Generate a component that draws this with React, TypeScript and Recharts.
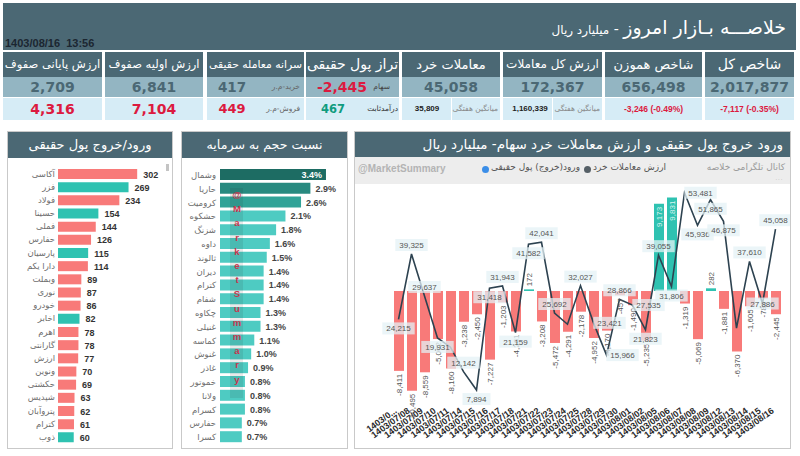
import React from 'react';
import { BarChart, Bar, XAxis, YAxis, Cell, LabelList, ComposedChart, Line } from 'recharts';

// ---------- header data ----------
const bannerTitle = 'خلاصـــه بـازار امروز';
const bannerUnit = 'میلیارد ریال';
const stamp = '1403/08/16  13:56';

const cardTitles = ['ارزش پایانی صفوف', 'ارزش اولیه صفوف', 'سرانه معامله حقیقی', 'تراز پول حقیقی', 'معاملات خرد', 'ارزش کل معاملات', 'شاخص هموزن', 'شاخص کل'];
const cardMain = ['2,709', '6,841', '417', '-2,445', '45,058', '172,367', '656,498', '2,017,877'];
const cardMainLabel = ['', '', 'خرید-م.ر', 'سهام', '', '', '', ''];
const cardSub = ['4,316', '7,104', '449', '467', '35,809', '1,160,339', '-3,246 (-0.49%)', '-7,117 (-0.35%)'];
const cardSubLabel = ['', '', 'فروش-م.ر', 'درآمدثابت', 'میانگین هفتگی', 'میانگین هفتگی', '', ''];

// ---------- left panel: real money in/out ----------
const flowTitle = 'ورود/خروج پول حقیقی';
const flowNames = ['آکاسی', 'فزر', 'فولاد', 'حسینا', 'فملی', 'حفارس', 'پارسیان', 'دارا یکم', 'وبملت', 'نوری', 'خودرو', 'اخابر', 'اهرم', 'گارانتی', 'ارزش', 'ونوین', 'حکشتی', 'شپدیس', 'پتروآبان', 'کترام', 'ذوب'];
const flowValues = [302, 269, 234, 154, 144, 126, 115, 114, 89, 87, 86, 82, 78, 78, 77, 70, 69, 63, 62, 61, 60];
const flowIsInflow = [false, true, false, true, false, false, true, false, false, false, false, true, false, false, false, false, false, false, false, false, true];

// ---------- middle panel: volume / capital ----------
const ratioTitle = 'نسبت حجم به سرمایه';
const ratioNames = ['وشمال', 'حاریا', 'کرومیت', 'حشکوه', 'شزنگ', 'داوه', 'ثالوند', 'دیران', 'کترام', 'شفام', 'چکاوه', 'غنیلی', 'کماسه', 'غنوش', 'غاذر', 'خموتور', 'ولانا', 'کسرام', 'حفارس', 'کسرا'];
const ratioValues = [3.4, 2.9, 2.6, 2.1, 1.8, 1.6, 1.5, 1.4, 1.4, 1.4, 1.3, 1.3, 1.1, 1.0, 0.9, 0.8, 0.8, 0.8, 0.7, 0.7];
const watermark = '@MarketSummary';

// ---------- right panel: trend ----------
const trendTitle = 'ورود خروج پول حقیقی و ارزش معاملات خرد سهام- میلیارد ریال';
const legendFlow = 'ورود(خروج) پول حقیقی';
const legendRetail = 'ارزش معاملات خرد';
const channelText = 'کانال تلگرامی خلاصه';
const dates = ['1403/07/07', '1403/07/08', '1403/07/09', '1403/07/10', '1403/07/11', '1403/07/14', '1403/07/15', '1403/07/16', '1403/07/17', '1403/07/18', '1403/07/21', '1403/07/22', '1403/07/23', '1403/07/24', '1403/07/25', '1403/07/28', '1403/07/29', '1403/07/30', '1403/08/01', '1403/08/02', '1403/08/05', '1403/08/06', '1403/08/07', '1403/08/08', '1403/08/09', '1403/08/12', '1403/08/13', '1403/08/14', '1403/08/15', '1403/08/16'];
const netFlow = [-8411, -10495, -8559, -5062, -8160, -3238, -2450, -7227, -1203, -4261, 172, -3208, -5472, -4291, -2178, -4952, -4170, -457, -1490, -5235, 9173, 9831, -1319, -5069, 282, -1881, -6370, -1605, -788, -2445];
const retailValue = [24215, 39325, 29637, 19931, 17800, 12142, 7894, 31418, 31943, 21159, 41582, 42041, 25692, 23100, 32027, 23421, 15966, 28866, 27535, 21823, 39055, 31806, 53481, 45936, 51865, 46875, 22200, 37610, 27886, 45058];

// label placement of the line's data labels (a = above, b = below, r = right, c = centre, '-' = hidden)
const retailLabelPlace = 'baab-abbabbaa-arrarbabrbbb-aca';

// ---------- colours ----------
const SLATE = '#4b6874';
const MID = '#93b5c2';
const LIGHT = '#d6ecf6';
const REDTXT = '#dc1a3f';
const GREENTXT = '#109c7f';
const REDBAR = '#f87a79';
const TEAL = '#2fc2b1';
const FA = '"DejaVu Sans", sans-serif';
const NUM = '"Liberation Sans", Arial, sans-serif';

const cardX = [3, 105, 207, 306, 402, 503, 605, 705];
const cardW = [99, 98, 97, 93, 98, 99, 97, 89];
const cardTitleSize = [11.5, 11.5, 10.8, 14, 13, 12, 13, 14];

function centered(text: string, cx: number, style: React.CSSProperties, h: number) {
  return (
    <div style={{ position: 'absolute', left: cx - 70, width: 140, top: 0, height: h, lineHeight: h + 'px', textAlign: 'center', whiteSpace: 'pre', ...style }}>{text}</div>
  );
}
function rightLabel(text: string, right: number, style: React.CSSProperties, h: number) {
  return (
    <div style={{ position: 'absolute', right, top: 0, height: h, lineHeight: h + 'px', direction: 'rtl', whiteSpace: 'nowrap', fontFamily: FA, ...style }}>{text}</div>
  );
}

function Card({ i }: { i: number }) {
  const w = cardW[i];
  const bigSlate: React.CSSProperties = { fontFamily: FA, fontWeight: 'bold', fontSize: 14, color: SLATE };
  let main: React.ReactNode;
  let sub: React.ReactNode;
  if (i === 2) {
    main = <>{centered(cardMain[i], 25, { ...bigSlate, fontSize: 13.5 }, 20)}{rightLabel(cardMainLabel[i], 4, { fontSize: 7.5, color: '#666' }, 20)}</>;
    sub = <>{centered(cardSub[i], 25, { fontFamily: FA, fontWeight: 'bold', fontSize: 13, color: REDTXT }, 22)}{rightLabel(cardSubLabel[i], 4, { fontSize: 7.5, color: '#666' }, 22)}</>;
  } else if (i === 3) {
    main = <>{centered(cardMain[i], 36, { ...bigSlate, color: REDTXT }, 20)}{rightLabel(cardMainLabel[i], 9, { fontSize: 7.5, color: '#444' }, 20)}</>;
    sub = <>{centered(cardSub[i], 27, { fontFamily: FA, fontWeight: 'bold', fontSize: 11.5, color: GREENTXT }, 22)}{rightLabel(cardSubLabel[i], 1, { fontSize: 7.5, color: '#333' }, 22)}</>;
  } else if (i === 4 || i === 5) {
    main = centered(cardMain[i], w / 2, bigSlate, 20);
    sub = (
      <>
        {centered(cardSub[i], i === 4 ? 25 : 27, { fontFamily: NUM, fontWeight: 'bold', fontSize: 8, color: '#222' }, 22)}
        <div style={{ position: 'absolute', left: 49, top: 0, width: 1, height: 22, background: '#ffffff' }} />
        {rightLabel(cardSubLabel[i], 2, { fontSize: 7.5, color: '#888' }, 22)}
      </>
    );
  } else if (i === 6 || i === 7) {
    main = centered(cardMain[i], w / 2, bigSlate, 20);
    sub = centered(cardSub[i], w / 2, { fontFamily: NUM, fontWeight: 'bold', fontSize: 8.5, color: REDTXT }, 22);
  } else {
    main = centered(cardMain[i], w / 2, bigSlate, 20);
    sub = centered(cardSub[i], w / 2, { fontFamily: FA, fontWeight: 'bold', fontSize: 14, color: REDTXT }, 22);
  }
  return (
    <div style={{ position: 'absolute', left: cardX[i], top: 52, width: w, height: 68 }}>
      <div style={{ position: 'absolute', left: 0, top: 0, width: w, height: 25, background: SLATE, color: '#fff', fontFamily: FA, fontSize: cardTitleSize[i], lineHeight: '25px', textAlign: 'center', direction: 'rtl', whiteSpace: 'nowrap', overflow: 'hidden' }}>{cardTitles[i]}</div>
      <div style={{ position: 'absolute', left: 0, top: 25, width: w, height: 20, background: MID, overflow: 'hidden' }}>{main}</div>
      <div style={{ position: 'absolute', left: 0, top: 46, width: w, height: 22, background: LIGHT, overflow: 'hidden' }}>{sub}</div>
    </div>
  );
}

const NameTick = (props: any) => {
  const { x, y, payload } = props;
  return (
    <text x={x} y={y} textAnchor="end" dominantBaseline="central" fontSize={8.5} fill="#6e6e6e" fontFamily={FA}>{payload.value}</text>
  );
};

const FlowLabel = (props: any) => {
  const { x, y, width, height, value } = props;
  return (
    <text x={x + width + 6} y={y + height / 2 + 0.5} dominantBaseline="central" fontSize={9} fontWeight="bold" fill="#333" fontFamily={NUM}>{value}</text>
  );
};

const RatioLabel = (props: any) => {
  const { x, y, width, height, value, index } = props;
  const txt = Number(value).toFixed(1) + '%';
  if (index === 0) {
    return <text x={x + width - 4} y={y + height / 2 + 0.5} textAnchor="end" dominantBaseline="central" fontSize={9} fontWeight="bold" fill="#ffffff" fontFamily={NUM}>{txt}</text>;
  }
  return <text x={x + width + 5} y={y + height / 2 + 0.5} dominantBaseline="central" fontSize={9} fontWeight="bold" fill="#444" fontFamily={NUM}>{txt}</text>;
};

const ratioColor = (i: number) => (i === 0 ? '#1d6c63' : i === 1 ? '#288a80' : i === 2 ? '#31a398' : '#4ecbc2');

const DateTick = (props: any) => {
  const { x, y, payload, index } = props;
  const v: string = payload.value;
  const label = index === 0 ? v.slice(0, 6) + '...' : v;
  return (
    <text transform={`translate(${x - 1},${y + 9}) rotate(-36)`} textAnchor="end" fontSize={9} fontWeight="bold" fill="#2a2a2a" fontFamily={NUM}>{label}</text>
  );
};

const FlowBarLabel = (props: any) => {
  const { x, y, width, height, value } = props;
  const v = Number(value);
  const top = Math.min(y, y + height);
  const bottom = Math.max(y, y + height);
  const cx = x + width / 2;
  const txt = v.toLocaleString('en-US');
  if (v < 0) {
    return <text transform={`translate(${cx},${bottom + 3}) rotate(-90)`} textAnchor="end" dominantBaseline="central" fontSize={8} fill="#555" fontFamily={NUM}>{txt}</text>;
  }
  if (bottom - top > 30) {
    return <text transform={`translate(${cx},${top + 3}) rotate(-90)`} textAnchor="end" dominantBaseline="central" fontSize={8} fill="#d8f4ef" fontFamily={NUM}>{txt}</text>;
  }
  return <text transform={`translate(${cx},${top - 3}) rotate(-90)`} textAnchor="start" dominantBaseline="central" fontSize={8} fill="#555" fontFamily={NUM}>{txt}</text>;
};

const RetailLabel = (props: any) => {
  const { x, y, value } = props;
  let index = props.index;
  if (index === undefined) index = retailValue.indexOf(Number(value));
  const place = retailLabelPlace[index];
  if (!place || place === '-') return null;
  const v = Number(value);
  const txt = v.toLocaleString('en-US');
  const w = txt.length * 4.4 + 6;
  let cx = x;
  let cy = y;
  if (place === 'a') cy = y - 9;
  else if (place === 'b') cy = y + 9;
  else if (place === 'r') cx = x + 16;
  return (
    <g>
      <rect x={cx - w / 2} y={cy - 6} width={w} height={12} fill="#e4f1f6" fillOpacity={0.75} />
      <text x={cx} y={cy + 0.5} textAnchor="middle" dominantBaseline="central" fontSize={8} fill="#555" fontFamily={NUM}>{txt}</text>
    </g>
  );
};

function PanelBox({ left, width, title, titleSize }: { left: number; width: number; title: string; titleSize: number }) {
  return (
    <div style={{ position: 'absolute', left, top: 131, width, height: 318, border: '1px solid #c9c9c9', boxSizing: 'border-box', background: '#fff' }}>
      <div style={{ position: 'absolute', left: 0, top: 0, right: 0, height: 26, background: SLATE, color: '#fff', fontFamily: FA, fontSize: titleSize, lineHeight: '26px', textAlign: 'center', direction: 'rtl', whiteSpace: 'nowrap' }}>{title}</div>
    </div>
  );
}

export default function App() {
  const flowData = flowNames.map((name, i) => ({ name, value: flowValues[i], inflow: flowIsInflow[i] }));
  const ratioData = ratioNames.map((name, i) => ({ name, value: ratioValues[i] }));
  const trendData = dates.map((date, i) => ({ date, flow: netFlow[i], retail: retailValue[i] }));

  return (
    <div style={{ position: 'fixed', left: 0, top: 0, width: 800, height: 456, background: '#fff', overflow: 'hidden', fontFamily: FA }}>
      {/* banner */}
      <div style={{ position: 'absolute', left: 3, top: 3, width: 793, height: 47, background: SLATE }}>
        <div style={{ position: 'absolute', left: 2, bottom: 1, height: 12, lineHeight: '12px', fontFamily: NUM, fontWeight: 'bold', fontSize: 11, color: '#1b2631', whiteSpace: 'pre' }}>{stamp}</div>
        <div style={{ position: 'absolute', right: 10, top: 8, height: 32, lineHeight: '32px', direction: 'rtl', color: '#fff', whiteSpace: 'nowrap', fontFamily: FA }}>
          <span style={{ fontSize: 19 }}>{bannerTitle}</span>
          <span style={{ fontSize: 14 }}>{' - '}</span>
          <span style={{ fontSize: 12 }}>{bannerUnit}</span>
        </div>
      </div>

      {cardTitles.map((_, i) => <Card key={i} i={i} />)}

      {/* panels */}
      <PanelBox left={7} width={166} title={flowTitle} titleSize={13} />
      <PanelBox left={181} width={167} title={ratioTitle} titleSize={12.6} />
      <PanelBox left={354} width={437} title="" titleSize={14} />
      <div style={{ position: 'absolute', right: 17, top: 131, height: 26, lineHeight: '26px', color: '#fff', fontSize: 13.5, direction: 'rtl', whiteSpace: 'nowrap', fontFamily: FA }}>{trendTitle}</div>

      {/* left chart */}
      <div style={{ position: 'absolute', left: 166, top: 164, width: 3, height: 7, background: '#c4c4c4' }} />
      <div style={{ position: 'absolute', left: 7, top: 158 }}>
        <BarChart width={166} height={290} data={flowData} layout="vertical" margin={{ top: 9, right: 13, bottom: 4.5, left: 0 }} barSize={10}>
          <XAxis type="number" domain={[0, 389]} hide allowDataOverflow />
          <YAxis type="category" dataKey="name" width={51} tickSize={0} tickMargin={3} axisLine={false} tickLine={false} tick={NameTick} interval={0} />
          <Bar dataKey="value" isAnimationActive={false}>
            {flowData.map((d, i) => <Cell key={i} fill={d.inflow ? TEAL : REDBAR} />)}
            <LabelList dataKey="value" content={FlowLabel} />
          </Bar>
        </BarChart>
      </div>

      {/* middle chart */}
      <div style={{ position: 'absolute', left: 181, top: 158 }}>
        <BarChart width={167} height={290} data={ratioData} layout="vertical" margin={{ top: 10, right: 8, bottom: 4, left: 0 }} barSize={11}>
          <XAxis type="number" domain={[0, 3.85]} hide allowDataOverflow />
          <YAxis type="category" dataKey="name" width={39} tickSize={0} tickMargin={4} axisLine={false} tickLine={false} tick={NameTick} interval={0} />
          <Bar dataKey="value" isAnimationActive={false}>
            {ratioData.map((_, i) => <Cell key={i} fill={ratioColor(i)} />)}
            <LabelList dataKey="value" content={RatioLabel} />
          </Bar>
        </BarChart>
      </div>
      <div style={{ position: 'absolute', left: 230, top: 188, width: 13, height: 210, background: 'rgba(40,40,40,0.10)' }} />
      {watermark.split('').map((ch, i) => (
        <div key={i} style={{ position: 'absolute', left: 230, width: 14, top: 189 + i * 14.2, height: 12, lineHeight: '12px', textAlign: 'center', fontFamily: NUM, fontWeight: 'bold', fontSize: 9.5, color: '#c8364e' }}>{ch}</div>
      ))}

      {/* right chart strip */}
      <div style={{ position: 'absolute', left: 355, top: 157, width: 435, height: 27, background: '#ededed' }} />
      <div style={{ position: 'absolute', left: 358, top: 163, fontFamily: NUM, fontWeight: 'bold', fontSize: 10, color: '#b4b4b4' }}>{watermark}</div>
      <div style={{ position: 'absolute', left: 482, top: 166, width: 7, height: 7, borderRadius: 4, background: '#3b8ee8' }} />
      <div style={{ position: 'absolute', left: 491, top: 162, fontSize: 9, color: '#555', direction: 'rtl', whiteSpace: 'nowrap', fontFamily: FA }}>{legendFlow}</div>
      <div style={{ position: 'absolute', left: 584, top: 166, width: 7, height: 7, borderRadius: 4, background: '#555f66' }} />
      <div style={{ position: 'absolute', left: 593, top: 162, fontSize: 9, color: '#555', direction: 'rtl', whiteSpace: 'nowrap', fontFamily: FA }}>{legendRetail}</div>
      <div style={{ position: 'absolute', right: 15, top: 162, fontSize: 9, color: '#9a9a9a', direction: 'rtl', whiteSpace: 'nowrap', fontFamily: FA }}>{channelText}</div>
      <div style={{ position: 'absolute', right: 17, top: 176, fontSize: 5, color: '#aaa' }}>{'۰۰۰'}</div>

      {/* right chart */}
      <div style={{ position: 'absolute', left: 354, top: 175 }}>
        <ComposedChart width={436} height={275} data={trendData} margin={{ top: 10, right: 8, bottom: 0, left: 38 }}>
          <XAxis dataKey="date" height={55} interval={0} tick={DateTick} tickLine={false} axisLine={false} />
          <YAxis yAxisId="flow" hide width={0} domain={[-10950, 11160]} allowDataOverflow />
          <YAxis yAxisId="retail" hide width={0} domain={[6750, 55270]} allowDataOverflow />
          <Bar yAxisId="flow" dataKey="flow" barSize={10} isAnimationActive={false}>
            {trendData.map((d, i) => <Cell key={i} fill={d.flow >= 0 ? TEAL : REDBAR} />)}
            <LabelList dataKey="flow" content={FlowBarLabel} />
          </Bar>
          <Line yAxisId="retail" type="linear" dataKey="retail" stroke="#2d4250" strokeWidth={1.6} dot={false} isAnimationActive={false}>
            <LabelList dataKey="retail" content={RetailLabel} />
          </Line>
        </ComposedChart>
      </div>
    </div>
  );
}
